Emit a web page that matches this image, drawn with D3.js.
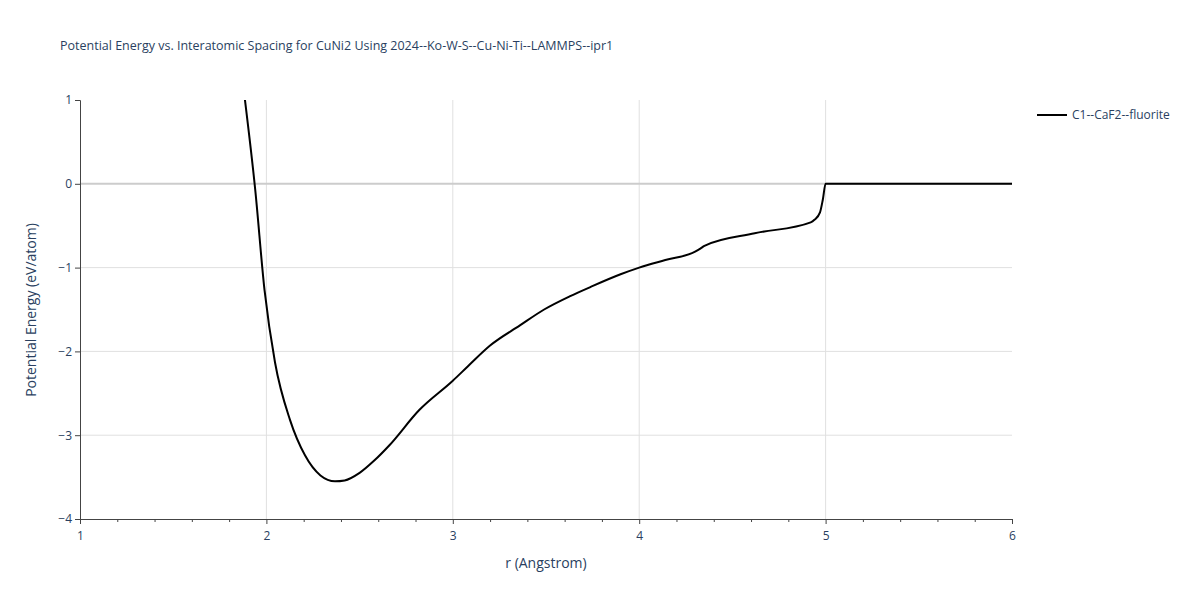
<!DOCTYPE html>
<html><head><meta charset="utf-8">
<script src="https://cdn.jsdelivr.net/npm/d3@7"></script>
<style>body{margin:0;background:#fff}text{font-family:"Open Sans",sans-serif}</style>
</head><body><svg id="c" width="1200" height="600"></svg>
<script>
const rVals = [1.885,1.94,1.99,2.046,2.127,2.207,2.29,2.368,2.42,2.50,2.58,2.66,2.82,3.0,3.08,3.2,3.36,3.49,3.63,3.74,3.90,4.0,4.14,4.30,4.33,4.35,4.62,4.92,4.94,4.97,4.985,5.0,6.0];
const eVals = [1,-0.07,-1.27,-2.13,-2.82,-3.24,-3.48,-3.55,-3.54,-3.45,-3.30,-3.12,-2.70,-2.35,-2.18,-1.93,-1.69,-1.50,-1.34,-1.23,-1.08,-1.0,-0.91,-0.81,-0.77,-0.74,-0.59,-0.46,-0.43,-0.34,-0.19,0,0];
const xTicks = [1,2,3,4,5,6];
const yTicks = [1,0,-1,-2,-3,-4];
const seriesName = "C1--CaF2--fluorite";

const svg = d3.select("#c");
const x = d3.scaleLinear().domain([1,6]).range([80,1012]);
const y = d3.scaleLinear().domain([-4,1]).range([519,100]);
const fg = "#2a3f5f";

svg.append("g").selectAll("line").data(xTicks.slice(1,-1)).join("line")
  .attr("x1",d=>x(d)).attr("x2",d=>x(d)).attr("y1",100).attr("y2",519).attr("stroke","#e0e0e0");
svg.append("g").selectAll("line").data(yTicks.filter(d=>d!==0&&d!==-4&&d!==1)).join("line")
  .attr("x1",80).attr("x2",1012).attr("y1",d=>y(d)).attr("y2",d=>y(d)).attr("stroke","#e0e0e0");
svg.append("line").attr("x1",80).attr("x2",1012).attr("y1",y(0)).attr("y2",y(0)).attr("stroke","#cccccc").attr("stroke-width",2);

const xa = svg.append("g").attr("transform","translate(0,519)")
  .call(d3.axisBottom(x).tickValues(xTicks).tickSize(5).tickFormat(d3.format("d")));
const xm = svg.append("g").attr("transform","translate(0,519)")
  .call(d3.axisBottom(x).tickValues(d3.range(1.2,6,0.2).filter(v=>Math.abs(v-Math.round(v))>0.01)).tickSize(3).tickFormat(""));
xm.select(".domain").remove();
const ya = svg.append("g").attr("transform","translate(80,0)")
  .call(d3.axisLeft(y).tickValues(yTicks).tickSize(5).tickFormat(d=>d<0?"\u2212"+(-d):d));
[xa,xm,ya].forEach(g=>{g.selectAll("line,path").attr("stroke","#444");g.selectAll("text").attr("fill",fg).style("font-size","12px").style("font-family","Open Sans");});
xa.selectAll("text").attr("dy","1.1em");

svg.append("path").datum(rVals.map((r,i)=>[r,eVals[i]]))
  .attr("d",d3.line().curve(d3.curveMonotoneX).x(d=>x(d[0])).y(d=>y(d[1])))
  .attr("fill","none").attr("stroke","#000").attr("stroke-width",2);

svg.append("text").attr("x",60).attr("y",50).attr("fill",fg).style("font-size","12.5px")
  .text("Potential Energy vs. Interatomic Spacing for CuNi2 Using 2024--Ko-W-S--Cu-Ni-Ti--LAMMPS--ipr1");
svg.append("text").attr("x",546).attr("y",568).attr("text-anchor","middle").attr("fill",fg).style("font-size","14px").text("r (Angstrom)");
svg.append("text").attr("transform","translate(36,310) rotate(-90)").attr("text-anchor","middle").attr("fill",fg).style("font-size","14px").text("Potential Energy (eV/atom)");
svg.append("line").attr("x1",1037).attr("x2",1067).attr("y1",115).attr("y2",115).attr("stroke","#000").attr("stroke-width",2);
svg.append("text").attr("x",1072).attr("y",119).attr("fill",fg).style("font-size","12px").text(seriesName);
</script></body></html>
